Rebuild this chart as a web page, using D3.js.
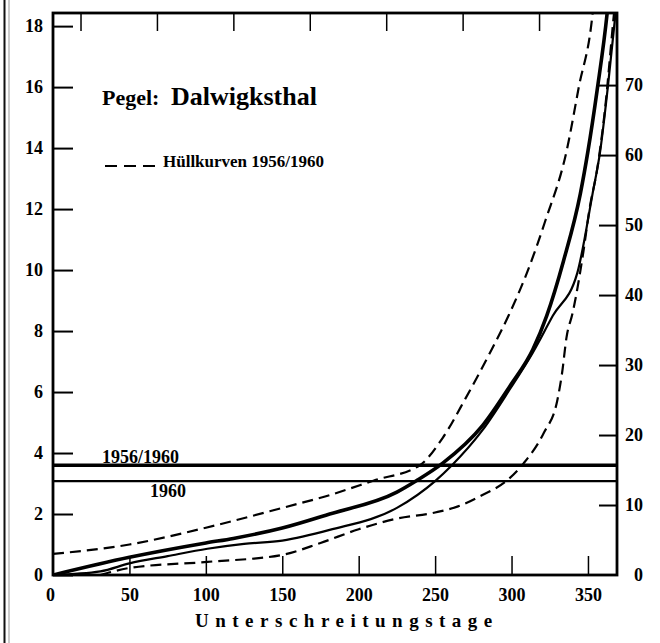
<!DOCTYPE html>
<html>
<head>
<meta charset="utf-8">
<script src="https://cdn.jsdelivr.net/npm/d3@7/dist/d3.min.js"></script>
<style>
  html, body { margin: 0; padding: 0; background: #fff; }
  svg text { font-family: "Liberation Serif", "DejaVu Serif", serif; fill: #000; }
</style>
</head>
<body>
<div id="chart"></div>
<script>
// Dauerlinien, Pegel Dalwigksthal ([day, stage on left axis])
const curve5660 = [[0,0],[50,0.58],[100,1.05],[118,1.2],[150,1.54],[181,2.0],[225,2.72],[238,3.1],[255,3.67],[281,4.9],[299,6.2],[314,7.4],[323,8.5],[334,10.3],[345,12.5],[350,13.9],[356,15.9],[362.5,18.4],[363.5,18.9]];
const curve1960 = [[0,0],[31,0.12],[50,0.38],[75,0.62],[101,0.86],[125,1.02],[150,1.13],[181,1.48],[225,2.2],[250,3.08],[261,3.6],[281,4.75],[299,6.1],[314,7.3],[327,8.5],[343,9.9],[353,12.5],[358,13.9],[363,16.0],[368,18.4],[369,18.9]];
const upperEnvelope = [[0,0.69],[50,1.0],[100,1.55],[150,2.2],[181,2.62],[210,3.1],[240,3.6],[255,4.5],[270,5.8],[285,7.2],[298,8.5],[310,9.9],[322,11.6],[336,13.9],[344,16.0],[353,18.4],[354,18.9]];
const lowerEnvelope = [[31,0],[50,0.23],[101,0.43],[150,0.66],[175,1.05],[200,1.5],[225,1.85],[250,2.05],[265,2.25],[280,2.6],[297,3.1],[308,3.67],[321,4.65],[330,5.74],[333,6.6],[336,7.8],[340,8.6],[347,10.6],[351,12.0],[356,13.3],[361,15.2],[367,18.4],[368,18.9]];

const refLevels = [3.6, 3.08];
const refLabels = ['1956/1960', '1960'];

const xTicks = [50, 100, 150, 200, 250, 300, 350];
const xTopTicks = [18, 68, 118, 168, 218, 268, 318];
const leftTicks = [0, 2, 4, 6, 8, 10, 12, 14, 16, 18];
const rightTicks = [0, 10, 20, 30, 40, 50, 60, 70];

const width = 660, height = 643;
const plot = { left: 53, right: 617, top: 13, bottom: 575 };

let svg = d3.select('#chart').append('svg')
    .attr('width', width)
    .attr('height', height);

let x = d3.scaleLinear().domain([0, 369]).range([plot.left, plot.right]);
let yLeft = d3.scaleLinear().domain([0, 18.43]).range([plot.bottom, plot.top]);
let yRight = d3.scaleLinear().domain([0, 80.3]).range([plot.bottom, plot.top]);

// scan margin lines on the left
svg.append('line').attr('x1', 4.5).attr('x2', 4.5).attr('y1', 0).attr('y2', height)
    .attr('stroke', '#111').attr('stroke-width', 2);
svg.append('line').attr('x1', 9).attr('x2', 9).attr('y1', 0).attr('y2', height)
    .attr('stroke', '#999').attr('stroke-width', 1);

svg.append('clipPath').attr('id', 'plotClip')
    .append('rect')
    .attr('x', plot.left).attr('y', plot.top)
    .attr('width', plot.right - plot.left).attr('height', plot.bottom - plot.top);

// axes
let styleAxis = (g) => {
    g.select('.domain').remove();
    g.selectAll('.tick line').attr('stroke', '#000').attr('stroke-width', 2);
    g.selectAll('.tick text')
        .style('font-size', '18px')
        .style('font-weight', 'bold');
};

svg.append('g')
    .attr('transform', `translate(${plot.left},0)`)
    .call(d3.axisLeft(yLeft).tickValues(leftTicks).tickSize(-20).tickPadding(10).tickFormat(d3.format('d')))
    .call(styleAxis);

svg.append('g')
    .attr('transform', `translate(${plot.right},0)`)
    .call(d3.axisRight(yRight).tickValues(rightTicks).tickSize(-18).tickPadding(10).tickFormat(d3.format('d')))
    .call(styleAxis)
    .call(g => g.selectAll('.tick text').attr('text-anchor', 'end').attr('x', 26))
    .call(g => g.selectAll('.tick').filter(d => d === 0).select('line').remove());

svg.append('g')
    .attr('transform', `translate(0,${plot.bottom})`)
    .call(d3.axisBottom(x).tickValues([0].concat(xTicks)).tickSize(-19).tickPadding(13).tickFormat(d3.format('d')))
    .call(styleAxis)
    .call(g => g.selectAll('.tick line').attr('stroke-width', 1.5))
    .call(g => g.selectAll('.tick').filter(d => d === 0).select('line').remove())
    .call(g => g.selectAll('.tick').filter(d => d === 0).select('text').attr('x', -3));

svg.append('g')
    .attr('transform', `translate(0,${plot.top})`)
    .call(d3.axisTop(x).tickValues(xTopTicks).tickSize(-18).tickFormat(''))
    .call(styleAxis)
    .call(g => g.selectAll('.tick line').attr('stroke-width', 1.5));

// reference levels
let levelStyle = [{ w: 3.5 }, { w: 2.2 }];
svg.selectAll('.level')
    .data(refLevels)
    .enter().append('line')
    .attr('class', 'level')
    .attr('x1', plot.left).attr('x2', plot.right)
    .attr('y1', d => yLeft(d)).attr('y2', d => yLeft(d))
    .attr('stroke', '#000')
    .attr('stroke-width', (d, i) => levelStyle[i].w);

svg.append('text')
    .attr('x', 102).attr('y', yLeft(refLevels[0]) - 2)
    .style('font-size', '18px').style('font-weight', 'bold')
    .text(refLabels[0]);
svg.append('text')
    .attr('x', 150).attr('y', yLeft(refLevels[1]) + 16)
    .style('font-size', '18px').style('font-weight', 'bold')
    .text(refLabels[1]);

// curves
let line = d3.line()
    .x(d => x(d[0]))
    .y(d => yLeft(d[1]))
    .curve(d3.curveMonotoneX);

let curves = [
    { data: upperEnvelope, w: 2.2, dash: '11,6' },
    { data: lowerEnvelope, w: 2.2, dash: '11,6' },
    { data: curve1960, w: 2.2, dash: null },
    { data: curve5660, w: 3.6, dash: null }
];

let curveLayer = svg.append('g').attr('clip-path', 'url(#plotClip)');
curveLayer.selectAll('path')
    .data(curves)
    .enter().append('path')
    .attr('d', d => line(d.data))
    .attr('fill', 'none')
    .attr('stroke', '#000')
    .attr('stroke-width', d => d.w)
    .attr('stroke-dasharray', d => d.dash)
    .attr('stroke-linejoin', 'round');

// frame
svg.append('rect')
    .attr('x', plot.left).attr('y', plot.top)
    .attr('width', plot.right - plot.left).attr('height', plot.bottom - plot.top)
    .attr('fill', 'none')
    .attr('stroke', '#000')
    .attr('stroke-width', 2.8);

// title and legend
svg.append('text')
    .attr('x', 102).attr('y', 105)
    .style('font-size', '22px').style('font-weight', 'bold')
    .text('Pegel:');
svg.append('text')
    .attr('x', 171).attr('y', 105)
    .style('font-size', '26px').style('font-weight', 'bold')
    .text('Dalwigksthal');

svg.append('line')
    .attr('x1', 105).attr('x2', 160)
    .attr('y1', 166).attr('y2', 166)
    .attr('stroke', '#000').attr('stroke-width', 2)
    .attr('stroke-dasharray', '12,7');
svg.append('text')
    .attr('x', 163).attr('y', 167)
    .style('font-size', '17px').style('font-weight', 'bold')
    .text('Hüllkurven 1956/1960');

// x axis title
svg.append('text')
    .attr('x', 195).attr('y', 627)
    .style('font-size', '19px').style('font-weight', 'bold')
    .style('letter-spacing', '6.5px')
    .text('Unterschreitungstage');
</script>
</body>
</html>
